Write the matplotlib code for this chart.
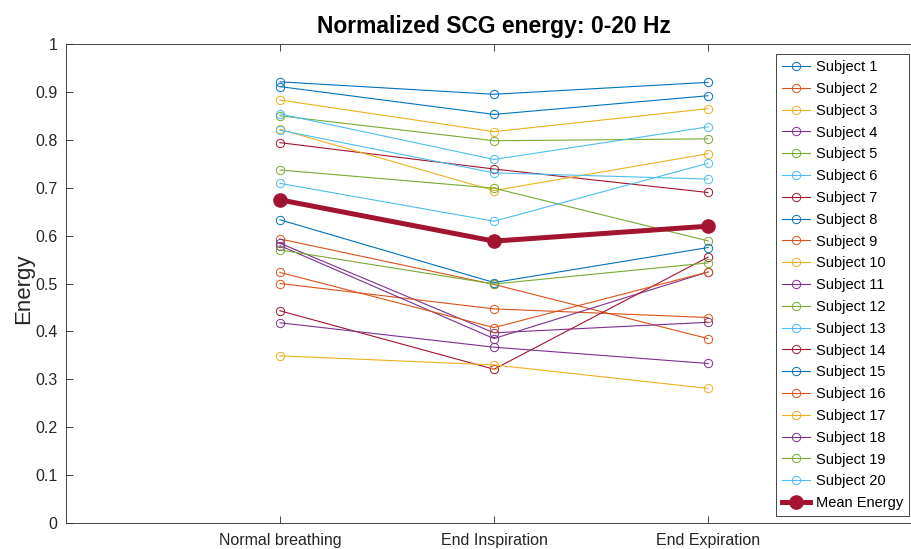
import numpy as np
import matplotlib
matplotlib.use("Agg")
import matplotlib.pyplot as plt

plt.rcParams['font.family'] = ['Liberation Sans', 'DejaVu Sans']

conditions = ["Normal breathing", "End Inspiration", "End Expiration"]
subjects = ["Subject %d" % i for i in range(1, 21)]

# energy per subject, one list per breathing condition
normal = [0.921, 0.593, 0.883, 0.584, 0.850, 0.854, 0.794,
          0.911, 0.500, 0.822, 0.579, 0.737, 0.820, 0.443,
          0.633, 0.523, 0.349, 0.418, 0.570, 0.709]
insp = [0.895, 0.498, 0.817, 0.397, 0.798, 0.759, 0.739,
        0.853, 0.447, 0.694, 0.385, 0.699, 0.731, 0.321,
        0.502, 0.408, 0.330, 0.367, 0.499, 0.630]
expi = [0.920, 0.385, 0.865, 0.419, 0.802, 0.827, 0.690,
        0.892, 0.429, 0.771, 0.524, 0.589, 0.718, 0.555,
        0.575, 0.524, 0.281, 0.333, 0.543, 0.751]

data = np.array([normal, insp, expi])
mean_energy = data.mean(axis=1)

colors = ["#0072BD", "#D95319", "#EDB120", "#7E2F8E",
          "#77AC30", "#4DBEEE", "#A2142F"]

fig = plt.figure(figsize=(9.11, 5.49), dpi=100)
ax = fig.add_axes([66 / 911, 26 / 549, 856 / 911, 479 / 549])

x = np.arange(1, 4)
for i, name in enumerate(subjects):
    ax.plot(x, data[:, i], "-o", color=colors[i % 7], lw=0.8,
            ms=6, mfc="none", mew=0.7, label=name)
ax.plot(x, mean_energy, "-o", color="#A2142F", lw=3.6, ms=9.5,
        mfc="#A2142F", label="Mean Energy")

ax.set_xlim(0, 4)
ax.set_ylim(0, 1)
ax.set_xticks(x)
ax.set_xticklabels(conditions, fontsize=11.5)
ax.set_yticks(np.arange(0, 1.01, 0.1))
ax.set_yticklabels(["0", "0.1", "0.2", "0.3", "0.4", "0.5",
                    "0.6", "0.7", "0.8", "0.9", "1"], fontsize=11.5)
ax.tick_params(direction="in", length=5, width=0.6, top=True,
               right=True, colors="#262626", pad=7)
ax.tick_params(axis="y", pad=6)
for s in ax.spines.values():
    s.set_linewidth(0.6)
    s.set_color("#262626")

ax.set_ylabel("Energy", fontsize=16, color="#262626")
ax.yaxis.set_label_coords(-0.037, 0.49)
fig.text(494 / 911, 1 - 26 / 549, "Normalized SCG energy: 0-20 Hz",
         ha="center", va="center", fontsize=16.5, fontweight="bold")

leg = ax.legend(loc="upper right", bbox_to_anchor=(909 / 911, 1 - 54 / 549),
                bbox_transform=fig.transFigure, fontsize=10.5,
                fancybox=False, framealpha=1, edgecolor="#262626",
                handlelength=1.9, handletextpad=0.4, labelspacing=0.535,
                borderpad=0.42, borderaxespad=0)
leg.get_frame().set_linewidth(0.6)

fig.savefig("out.png", dpi=100)
